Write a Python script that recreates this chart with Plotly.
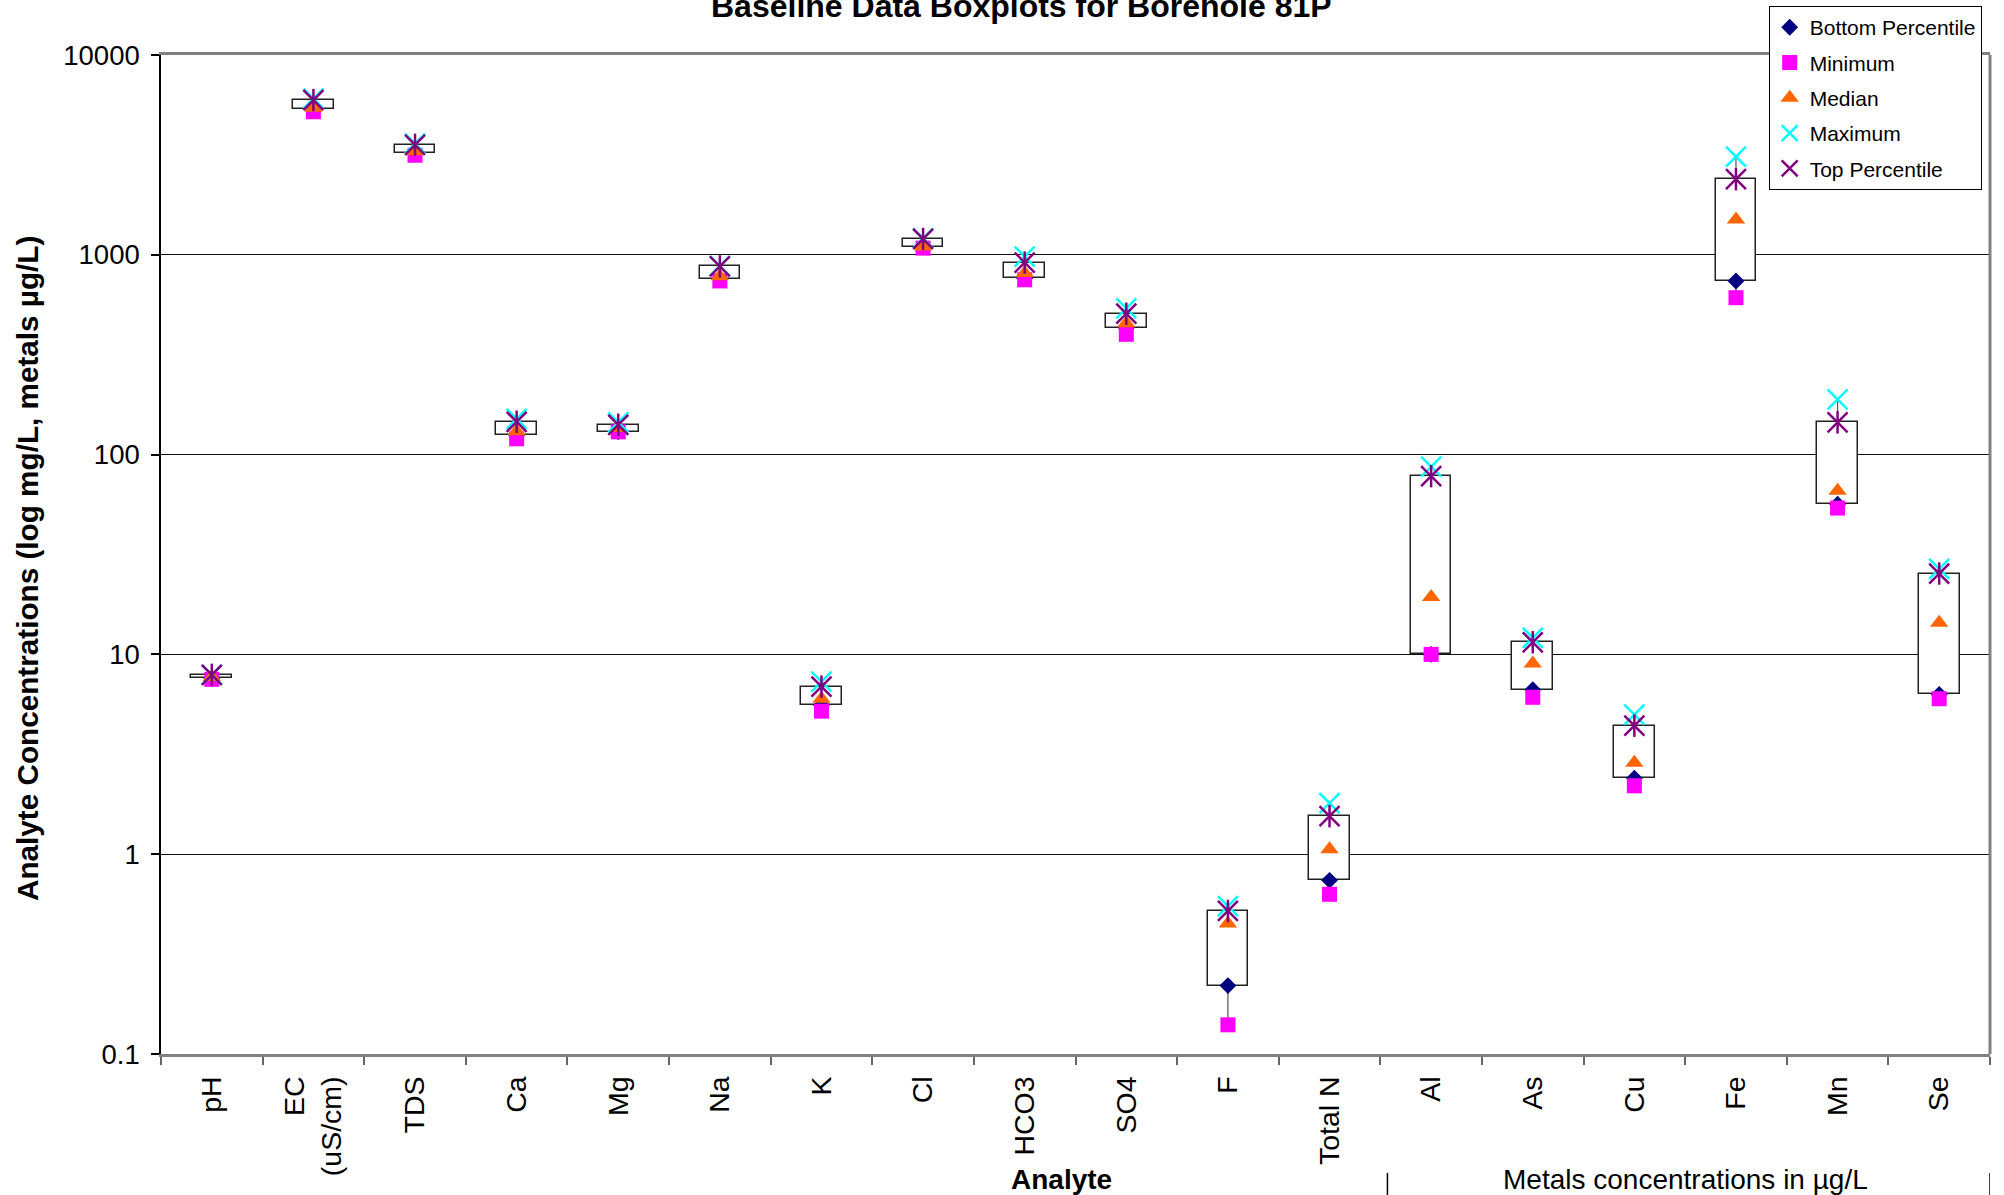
import plotly.graph_objects as go

# Analytes (metals reported in ug/L, the rest in mg/L)
analytes = ["pH", "EC<br>(uS/cm)", "TDS", "Ca", "Mg", "Na", "K", "Cl", "HCO3",
            "SO4", "F", "Total N", "Al", "As", "Cu", "Fe", "Mn", "Se"]

bottom_percentile = [7.6, 5380, 3250, 125, 130, 758, 5.56, 1100, 764,
                     430, 0.22, 0.74, 10, 6.65, 2.4, 740, 56.5, 6.3]
minimum = [7.5, 5200, 3150, 120, 130, 740, 5.2, 1080, 750,
           400, 0.14, 0.63, 10, 6.1, 2.2, 610, 54, 6.0]
median = [7.7, 5450, 3300, 131, 136, 780, 6.0, 1100, 810,
          455, 0.45, 1.06, 19.4, 9.0, 2.87, 1500, 66, 14.4]
maximum = [7.9, 6050, 3600, 151, 145, 880, 7.3, 1210, 980,
           540, 0.55, 1.8, 87, 12.1, 5.0, 3100, 189, 26.8]
top_percentile = [7.9, 5950, 3550, 146, 141, 875, 6.9, 1200, 915,
                  507, 0.52, 1.55, 78, 11.5, 4.4, 2390, 145, 25.4]

y_tick_values = [0.1, 1, 10, 100, 1000, 10000]
y_tick_labels = ["0.1", "1", "10", "100", "1000", "10000"]

FONT = "Liberation Sans, Arial, Helvetica, sans-serif"

fig = go.Figure()

# Boxes spanning bottom to top percentile
fig.add_trace(go.Bar(
    x=analytes,
    base=bottom_percentile,
    y=[t - b for t, b in zip(top_percentile, bottom_percentile)],
    width=0.4,
    marker=dict(color="white", line=dict(color="#222222", width=1.5)),
    showlegend=False,
    hoverinfo="skip",
))

# Whiskers from minimum to box and from box to maximum
wx, wy = [], []
for a, lo, b, t, hi in zip(analytes, minimum, bottom_percentile, top_percentile, maximum):
    wx += [a, a, None, a, a, None]
    wy += [lo, b, None, t, hi, None]
fig.add_trace(go.Scatter(
    x=wx, y=wy, mode="lines",
    line=dict(color="#555555", width=1.2),
    showlegend=False, hoverinfo="skip",
))

series = [
    ("Bottom Percentile", bottom_percentile, "diamond", "#000080", 13, 0),
    ("Minimum", minimum, "square", "#FF00FF", 15, 0),
    ("Median", median, "triangle-up", "#FF6600", 16, 0),
    ("Maximum", maximum, "x-thin-open", "#00FFFF", 20, 2.5),
    ("Top Percentile", top_percentile, "x-thin-open", "#800080", 20, 2.5),
]
for i, (name, vals, sym, col, size, lw) in enumerate(series):
    marker = dict(symbol=sym, color=col, size=size)
    if lw:
        marker["line"] = dict(color=col, width=lw)
    else:
        marker["line"] = dict(width=0)
    fig.add_trace(go.Scatter(
        x=analytes, y=vals, mode="markers", name=name,
        marker=marker, legendgroup=f"g{i}",
    ))

# Vertical stroke of the star marker
fig.add_trace(go.Scatter(
    x=analytes, y=top_percentile, mode="markers",
    marker=dict(symbol="line-ns-open", color="#800080", size=16,
                line=dict(color="#800080", width=2.5)),
    showlegend=False, hoverinfo="skip", legendgroup="g4",
))

fig.update_layout(
    width=2004, height=1195,
    margin=dict(l=161, r=14, t=55, b=141, autoexpand=False),
    paper_bgcolor="white", plot_bgcolor="white",
    font=dict(family=FONT, size=27, color="black"),
    bargap=0,
    legend=dict(
        x=0.879, y=1.049, xanchor="left", yanchor="top",
        bgcolor="white", bordercolor="black", borderwidth=1,
        font=dict(family=FONT, size=21, color="black"),
        traceorder="grouped", tracegroupgap=5, itemwidth=30,
    ),
    xaxis=dict(
        type="category", range=[-0.5, 17.5],
        tickson="boundaries", ticks="outside", ticklen=8, tickcolor="#666666",
        tickwidth=1.5, tickangle=-90, ticklabelstandoff=8,
        showline=True, linecolor="#808080", linewidth=3, mirror=True,
        showgrid=False, tickfont=dict(family=FONT, size=28.5),
    ),
    yaxis=dict(
        type="log", range=[-1, 4],
        tickvals=y_tick_values, ticktext=y_tick_labels,
        ticks="outside", ticklen=8, tickcolor="black", tickwidth=1.5,
        ticklabelstandoff=6,
        showline=True, linecolor="black", linewidth=1.5,
        showgrid=True, gridcolor="#111111", gridwidth=1.2,
        tickfont=dict(family=FONT, size=27.5),
    ),
    shapes=[
        dict(type="line", xref="paper", yref="paper", x0=1, x1=1, y0=0, y1=1,
             line=dict(color="#808080", width=3)),
        dict(type="line", xref="x", yref="paper", x0=11.57, x1=11.57, y0=-0.119, y1=-0.145,
             line=dict(color="black", width=1.5)),
        dict(type="line", xref="x", yref="paper", x0=17.5, x1=17.5, y0=-0.119, y1=-0.145,
             line=dict(color="black", width=1.5)),
    ],
    annotations=[
        dict(text="<b>Baseline Data Boxplots for Borehole 81P</b>", xref="paper", yref="paper",
             x=0.4707, y=1.049, xanchor="center", yanchor="middle", showarrow=False,
             font=dict(family=FONT, size=32)),
        dict(text="<b>Analyte Concentrations (log mg/L, metals µg/L)</b>", xref="paper", yref="paper",
             x=-0.0727, y=0.4855, xanchor="center", yanchor="middle", textangle=-90,
             showarrow=False, font=dict(family=FONT, size=29.7)),
        dict(text="<b>Analyte</b>", xref="paper", yref="paper",
             x=0.4926, y=-0.126, xanchor="center", yanchor="middle", showarrow=False,
             font=dict(family=FONT, size=28)),
        dict(text="Metals concentrations in µg/L", xref="x", yref="paper",
             x=14.5, y=-0.126, xanchor="center", yanchor="middle", showarrow=False,
             font=dict(family=FONT, size=28)),
    ],
)

fig.write_html("out.html")
